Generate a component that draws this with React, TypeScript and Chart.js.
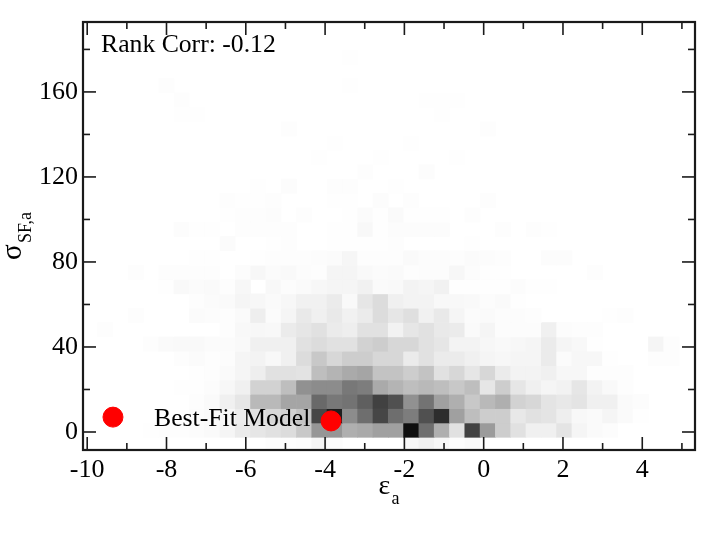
import React, { useEffect, useRef } from "react";
import { Chart, registerables } from "chart.js";

Chart.register(...registerables);

// Darkness (0 = white, 255 = black) of every histogram cell; one list per sigma bin, bottom bin first.
const rowM1 = [0,0,0,0,0,0,0,0,0,0, 0,0,2,2,3,10,3,0,0,0, 0,8,14,8,3,6,0,0,0,0, 0,0,0,0,0,0,0,0,0,0];
const row0 = [0,0,0,0,1,2,2,3,5,10, 20,25,30,35,55,105,105,80,85,95, 95,240,145,80,30,190,100,50,30,15, 15,27,10,5,3,0,0,0,0,0];
const row1 = [0,0,0,0,0,0,0,3,5,8, 18,30,40,45,60,185,225,115,145,185, 145,130,175,210,95,65,50,50,23,30, 27,17,7,5,10,5,1,0,0,0];
const row2 = [0,0,0,0,0,0,0,2,5,15, 25,70,70,90,90,150,135,140,160,190, 175,110,140,95,80,55,70,80,45,40, 27,23,27,15,15,5,3,0,0,0];
const row3 = [0,0,0,0,0,0,1,1,3,8, 15,45,45,65,110,115,115,135,130,85, 75,65,70,65,55,65,25,50,25,15, 10,13,25,12,6,2,0,0,0,0];
const row4 = [0,0,0,0,0,0,0,1,2,5, 10,17,30,30,28,65,75,85,90,60, 60,50,60,30,40,25,40,20,12,12, 15,8,8,2,2,2,0,0,0,0];
const row5 = [0,0,0,0,0,0,2,4,2,3, 10,12,7,15,35,55,40,50,50,40, 40,20,30,20,20,15,10,8,10,10, 20,4,8,8,1,0,0,2,2,0];
const row6 = [0,0,0,0,2,5,6,6,4,4, 6,15,15,15,30,35,30,30,45,50, 40,40,30,25,12,12,8,6,8,10, 20,10,7,1,0,0,0,10,2,0];
const row7 = [0,2,0,0,0,0,0,0,0,2, 7,8,7,20,25,30,20,17,30,30, 13,25,30,22,20,5,10,3,3,3, 15,3,2,2,0,0,0,0,0,0];
const row8 = [0,0,0,2,0,0,0,4,3,2, 5,17,4,10,22,15,22,14,20,35, 25,32,14,22,10,4,5,3,3,2, 0,0,0,0,1,2,0,0,0,0];
const row9 = [0,0,0,0,0,0,0,2,4,5, 10,8,5,8,14,14,20,6,25,35, 15,12,12,7,7,6,3,5,1,0, 0,0,0,0,0,0,0,0,0,0];
const row10 = [0,0,0,0,0,1,6,4,5,2, 8,0,7,3,5,8,10,10,14,5, 6,12,10,14,1,1,1,1,3,1, 1,0,0,0,0,0,0,0,0,0];
const row11 = [0,0,0,2,0,2,2,2,2,0, 3,8,4,6,3,2,10,10,6,4, 5,2,3,3,8,3,1,1,0,0, 0,0,0,2,0,0,0,0,0,0];
const row12 = [0,0,0,0,0,0,0,1,1,0, 0,1,2,2,2,3,4,9,2,2, 2,5,3,3,2,4,3,2,0,0, 3,3,0,0,0,0,0,0,0,0];
const row13 = [0,0,0,0,0,0,0,0,0,4, 0,0,1,2,0,0,1,1,1,1, 2,0,0,0,0,1,0,0,0,0, 0,0,0,0,0,0,0,0,0,0];
const row14 = [0,0,0,0,0,0,3,1,1,0, 2,2,2,2,0,0,1,1,7,1, 3,3,3,3,0,0,0,2,0,2, 1,0,0,0,0,0,0,0,0,0];
const row15 = [0,0,0,0,0,0,0,0,0,1, 2,2,3,0,2,0,0,1,4,1, 5,1,1,1,0,2,0,0,0,0, 0,0,0,0,0,0,0,0,0,0];
const row16 = [0,0,0,0,0,0,0,0,0,2, 1,1,2,0,0,0,1,1,0,3, 0,2,0,0,0,0,2,0,0,0, 0,0,0,0,0,0,0,0,0,0];
const row17 = [0,0,0,0,0,0,0,0,0,0, 0,1,0,3,0,0,2,2,0,0, 1,0,0,0,0,0,0,0,0,0, 0,0,0,0,0,0,0,0,0,0];
const row18 = [0,0,0,0,0,0,0,0,0,0, 0,0,0,0,0,0,0,0,2,0, 0,0,3,0,0,0,0,0,0,0, 0,0,0,0,0,0,0,0,0,0];
const row19 = [0,0,0,0,0,0,0,0,0,0, 0,0,0,0,0,1,0,0,0,1, 0,0,0,0,1,0,0,0,0,0, 0,0,0,0,0,0,0,0,0,0];
const row20 = [0,0,0,0,0,0,0,0,0,0, 0,0,0,0,0,0,1,0,0,0, 0,1,0,0,0,0,0,0,0,0, 0,0,0,0,0,0,0,0,0,0];
const row21 = [0,0,0,0,0,0,0,0,0,0, 0,0,0,2,0,0,0,0,0,0, 0,0,0,0,0,0,2,0,0,0, 0,0,0,0,0,0,0,0,0,0];
const row22 = [0,0,0,0,0,0,1,1,0,0, 0,0,0,0,0,0,0,0,0,0, 0,0,0,1,0,0,0,0,0,0, 0,0,0,0,0,0,0,0,0,0];
const row23 = [0,0,0,0,0,0,2,0,0,0, 0,0,0,0,0,0,0,0,0,0, 0,0,1,1,1,0,0,0,0,0, 0,0,0,0,0,0,0,0,0,0];
const row24 = [0,0,0,0,0,2,0,0,0,0, 0,0,0,0,0,0,0,1,0,0, 0,0,0,0,0,0,0,0,0,0, 0,0,0,0,0,0,0,0,0,0];
const row26 = [0,0,0,0,0,0,0,0,0,0, 0,0,0,0,0,0,0,1,0,0, 0,0,0,0,0,0,0,0,0,0, 0,0,0,0,0,0,0,0,0,0];

const histogramRows: [number, number[]][] = [
  [-1, rowM1], [0, row0], [1, row1], [2, row2], [3, row3], [4, row4], [5, row5], [6, row6],
  [7, row7], [8, row8], [9, row9], [10, row10], [11, row11], [12, row12], [13, row13], [14, row14],
  [15, row15], [16, row16], [17, row17], [18, row18], [19, row19], [20, row20], [21, row21],
  [22, row22], [23, row23], [24, row24], [26, row26],
];

const EPS_START = -10.126;
const EPS_BIN = 0.386;
const SIGMA_START = -2.5;
const SIGMA_BIN = 6.75;

const bestFitEps = [-9.35, -3.85];
const bestFitSigma = [7, 5.2];

const xMajorTicks = [-10, -8, -6, -4, -2, 0, 2, 4];
const xMinorTicks = [-9, -7, -5, -3, -1, 1, 3, 5];
const yMajorTicks = [0, 40, 80, 120, 160];
const yMinorTicks = [20, 60, 100, 140, 180];

const rankCorrLabel = "Rank Corr: -0.12";
const bestFitLabel = "Best-Fit Model";

const SERIF = '"Liberation Serif", serif';
const INK = "#1a1a1a";

const cells: { x: number; y: [number, number] }[] = [];
const cellColours: string[] = [];
histogramRows.forEach(([r, values]) => {
  values.forEach((d, c) => {
    if (d <= 0) return;
    cells.push({
      x: EPS_START + EPS_BIN * (c + 0.5),
      y: [SIGMA_START + SIGMA_BIN * r, SIGMA_START + SIGMA_BIN * (r + 1)],
    });
    const g = 255 - d;
    cellColours.push(`rgb(${g},${g},${g})`);
  });
});

const framePlugin = {
  id: "xmgraceFrame",
  afterDatasetsDraw(chart: any) {
    const { ctx, chartArea: a, scales } = chart;
    const x = scales.x;
    const y = scales.y;
    ctx.save();
    ctx.strokeStyle = INK;
    ctx.lineWidth = 1.6;
    const tick = (x1: number, y1: number, x2: number, y2: number) => {
      ctx.beginPath();
      ctx.moveTo(x1, y1);
      ctx.lineTo(x2, y2);
      ctx.stroke();
    };
    const xTicks = (list: number[], len: number) =>
      list.forEach((v) => {
        const p = x.getPixelForValue(v);
        tick(p, a.bottom, p, a.bottom - len);
        tick(p, a.top, p, a.top + len);
      });
    const yTicks = (list: number[], len: number) =>
      list.forEach((v) => {
        const p = y.getPixelForValue(v);
        tick(a.left, p, a.left + len, p);
        tick(a.right, p, a.right - len, p);
      });
    xTicks(xMajorTicks, 13);
    xTicks(xMinorTicks, 7);
    yTicks(yMajorTicks, 13);
    yTicks(yMinorTicks, 7);
    ctx.lineWidth = 2.2;
    ctx.strokeRect(a.left, a.top, a.right - a.left, a.bottom - a.top);

    ctx.fillStyle = "#000";
    ctx.textBaseline = "alphabetic";
    ctx.textAlign = "left";
    ctx.font = `25.7px ${SERIF}`;
    ctx.fillText(rankCorrLabel, 101, 52);
    ctx.fillText(bestFitLabel, 154, 426);

    // x-axis title with subscript
    ctx.font = `28px ${SERIF}`;
    ctx.fillText("\u03b5", 378.5, 493.5);
    ctx.font = `18px ${SERIF}`;
    ctx.fillText("a", 391.5, 504);

    // y-axis title with subscript, rotated
    ctx.translate(20.5, 260);
    ctx.rotate(-Math.PI / 2);
    ctx.font = `29px ${SERIF}`;
    ctx.fillText("\u03c3", 0, 0);
    ctx.font = `18px ${SERIF}`;
    ctx.fillText("SF,a", 17, 10);
    ctx.restore();
  },
};

export default function App() {
  const ref = useRef<HTMLCanvasElement>(null);
  useEffect(() => {
    const chart = new Chart(ref.current as HTMLCanvasElement, {
      type: "bar",
      data: {
        datasets: [
          {
            type: "scatter",
            data: bestFitEps.map((x, i) => ({ x, y: bestFitSigma[i] })),
            backgroundColor: "#ff0000",
            borderColor: "#ff0000",
            pointRadius: 10,
            pointHoverRadius: 10,
            order: 0,
          },
          {
            type: "bar",
            data: cells,
            backgroundColor: cellColours,
            borderWidth: 0,
            barPercentage: 1,
            categoryPercentage: 1,
            grouped: false,
            order: 1,
          },
        ] as any,
      },
      options: {
        responsive: false,
        animation: false,
        devicePixelRatio: 1,
        layout: { padding: { top: 22, right: 27, left: 0, bottom: 0 } },
        plugins: { legend: { display: false }, tooltip: { enabled: false }, title: { display: false } },
        scales: {
          x: {
            type: "linear",
            offset: false,
            min: -10.106,
            max: 5.33,
            grid: { display: false, drawTicks: false },
            border: { display: false },
            afterFit: (s: any) => { s.height = 92; },
            afterBuildTicks: (s: any) => { s.ticks = xMajorTicks.map((value) => ({ value })); },
            ticks: {
              autoSkip: false,
              maxRotation: 0,
              padding: 5,
              color: "#000",
              font: { family: SERIF, size: 26 },
              callback: (v: any) => String(v),
            },
          },
          y: {
            type: "linear",
            min: -8.47,
            max: 192.9,
            grid: { display: false, drawTicks: false },
            border: { display: false },
            afterFit: (s: any) => { s.width = 83; },
            afterBuildTicks: (s: any) => { s.ticks = yMajorTicks.map((value) => ({ value })); },
            ticks: {
              autoSkip: false,
              padding: 5,
              color: "#000",
              font: { family: SERIF, size: 26 },
              callback: (v: any) => String(v),
            },
          },
        },
      } as any,
      plugins: [framePlugin as any],
    });
    return () => chart.destroy();
  }, []);
  return (
    <div style={{ position: "absolute", left: 0, top: 0, width: 722, height: 542, background: "#fff" }}>
      <canvas ref={ref} width={722} height={542} style={{ display: "block" }} />
    </div>
  );
}
